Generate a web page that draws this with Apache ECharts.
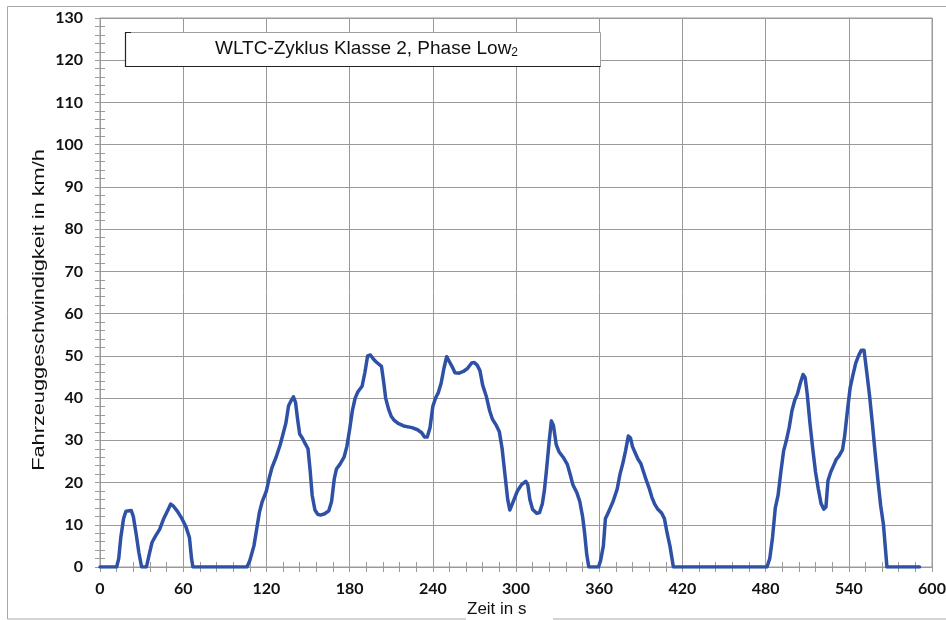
<!DOCTYPE html>
<html><head><meta charset="utf-8">
<script src="https://cdn.jsdelivr.net/npm/echarts@6/dist/echarts.min.js"></script>
<style>html,body{margin:0;padding:0;background:#fff}#c{width:946px;height:620px}</style>
</head><body><div id="c"></div>
<script>
const chartTitle = 'WLTC-Zyklus Klasse 2, Phase Low';
const titleSub = '2';
const xAxisTitle = 'Zeit in s';
const yAxisTitle = 'Fahrzeuggeschwindigkeit in km/h';
const xTickLabels = [0, 60, 120, 180, 240, 300, 360, 420, 480, 540, 600];
const yTickLabels = [0, 10, 20, 30, 40, 50, 60, 70, 80, 90, 100, 110, 120, 130];

const timeS = [0,12,13.5,15,17,18.7,20,22.5,24,26,28,30,
33.5,35.5,37.5,40,43,46,49,51,53,56,59,62,64.5,66,67,
106,108,111,113,115,117,120,122,124,127,130,132,134,136,138,139.5,141,142.5,144,146,
148,150,151.5,153,155,157,159,162,165,167,169,170.5,173,176,178,180,182,184,186,189,
191,193,195,197,199,203,204.5,206,208,210,212,215,219,225,229,232,234,236,238,240,
242,244,246,248,250,252,254,256,259,262,265,268,270,272,274,276,278.5,281,283,286,
288,290,292,294,295.5,298,301,304,307,308.5,310,312,315,317,319,320.5,322,324,325.5,327,
329,331,334,337,339,341,344,346,348,349.5,351,352.5,
359.5,361,363,364.5,366,368,370,373,375,377,379,381,382.5,384,386,388,390,392,394,396,
398,400,402,405,407,409,411,412.5,413.5,
481,483,485,487,489,491,493,495,497,499,501,503,505,507,508.5,510,512,514,516,518,
520,522,523.5,525,527,529,531,533,535.5,537,539,541,543,545,547,549,551,553,555,557,
559,561,563,565,566.5,567.5,591];

const speedKmh = [0,0,2,7,11.5,13.2,13.6,13.4,12,8,3.5,0,
0,3,5.8,7.3,8.9,11.5,13.5,14.9,14.4,13.1,11.5,9.5,7,2,0,
0,1.5,5,9,13,15.5,18,21,23.5,26,29,31.5,34,38.2,39.5,40.3,39,35,31.5,30.5,
29.2,28,23,17,13.5,12.5,12.3,12.6,13.3,15.5,21,23.2,24.3,26,28.5,32.5,37,40,41.5,42.8,
46,50,50.2,49.3,48.6,47.5,44,40,37.5,35.7,34.8,34,33.4,33,32.5,31.8,30.8,30.8,33,38,
40,41.3,43.5,47,49.8,48.6,47.4,46,45.9,46.3,47,48.3,48.4,47.8,46.5,43,40.5,37,35,33.4,
32,28,22,16,13.5,15.5,18,19.5,20.3,19.5,16,13.6,12.7,12.9,15,18.2,23,30,34.6,33.5,
29,27.3,26,24.3,22,19.5,17.5,15.5,12,8,3,0,
0,1.5,5,11.5,12.5,14,15.5,18.5,22,24.5,27.5,31,30.6,28.5,27,25.5,24.5,22.5,20.5,18.7,
16.5,14.9,13.8,12.8,11.5,8,5,2,0,
0,2,7,14,17,22.5,27.5,30,33,37,39.5,41,43.5,45.6,44.9,41,34,28,22.5,18.5,
15,13.7,14.2,20.5,22.5,24,25.5,26.3,27.8,31,37,42.5,45.5,48.3,50,51.3,51.3,46,40.5,34,
27,20.5,14.5,10,4,0,0];

const seriesData = timeS.map((t, i) => [t, speedKmh[i]]);

const gridGray = '#9a9a9a';
const labelStyle = {fontFamily: 'Lato', fontWeight: 'bold', fontSize: 16, color: '#111'};

function xAx(inside) {
  return {
    type: 'value', position: 'bottom',
    min: xTickLabels[0], max: xTickLabels[xTickLabels.length - 1],
    interval: xTickLabels[1] - xTickLabels[0],
    axisLine: {show: !inside, lineStyle: {color: gridGray, width: 1}},
    axisTick: {show: true, inside: inside, length: 5, lineStyle: {color: gridGray}},
    minorTick: {show: true, splitNumber: 5, length: 5, lineStyle: {color: gridGray}},
    splitLine: {show: !inside, lineStyle: {color: gridGray, width: 1}},
    minorSplitLine: {show: false},
    axisLabel: inside ? {show: false} : Object.assign({margin: 14}, labelStyle)
  };
}
function yAx(inside) {
  return {
    type: 'value', position: 'left',
    min: yTickLabels[0], max: yTickLabels[yTickLabels.length - 1],
    interval: yTickLabels[1] - yTickLabels[0],
    axisLine: {show: !inside, lineStyle: {color: gridGray, width: 1}},
    axisTick: {show: true, inside: inside, length: 5, lineStyle: {color: gridGray}},
    minorTick: {show: true, splitNumber: 5, length: 5, lineStyle: {color: gridGray}},
    splitLine: {show: !inside, lineStyle: {color: gridGray, width: 1}},
    minorSplitLine: {show: false},
    axisLabel: inside ? {show: false} : Object.assign({margin: 17}, labelStyle)
  };
}

const chart = echarts.init(document.getElementById('c'), null, {renderer: 'canvas'});
chart.setOption({
  animation: false,
  backgroundColor: '#fff',
  grid: {left: 100, right: 14, top: 18, bottom: 53, show: true, borderColor: gridGray, borderWidth: 1, containLabel: false, outerBoundsMode: 'none'},
  xAxis: [xAx(false), xAx(true)],
  yAxis: [yAx(false), yAx(true)],
  series: [{
    type: 'line', xAxisIndex: 0, yAxisIndex: 0,
    data: seriesData, showSymbol: false, symbol: 'none',
    lineStyle: {color: '#2E51A5', width: 3.5, join: 'round', cap: 'round'},
    z: 5
  }],
  graphic: [
    {type: 'rect', z: 0, silent: true, shape: {x: 7.5, y: 6.5, width: 960, height: 612.5},
     style: {fill: 'none', stroke: '#a8a8a8', lineWidth: 1}},
    {type: 'rect', z: 10, shape: {x: 466, y: 597, width: 87, height: 24}, style: {fill: '#fff'}},
    {type: 'text', z: 11, x: 467, y: 609, style: {text: xAxisTitle, font: '17px "Liberation Sans", Arial, sans-serif', fill: '#111', align: 'left', verticalAlign: 'middle'}},
    {type: 'text', z: 11, x: 40, y: 310, rotation: Math.PI / 2, scaleX: 1.36,
     style: {text: yAxisTitle, font: '16px "Liberation Sans", Arial, sans-serif', fill: '#111', align: 'center', verticalAlign: 'middle'}},
    {type: 'rect', z: 10, shape: {x: 125.5, y: 32.5, width: 475, height: 34}, style: {fill: '#fff', stroke: '#a0a0a0', lineWidth: 1}},
    {type: 'polyline', z: 11, shape: {points: [[131, 32.5], [125.5, 32.5], [125.5, 66.5], [600.5, 66.5]]}, style: {stroke: '#222', lineWidth: 1.2, fill: 'none'}},
    {type: 'text', z: 12, x: 215, y: 49, style: {
      text: '{a|' + chartTitle + '}{b|' + titleSub + '}',
      align: 'left', verticalAlign: 'middle', fill: '#111',
      rich: {
        a: {fontFamily: '"Liberation Sans", Arial, sans-serif', fontSize: 19, fill: '#111', color: '#111'},
        b: {fontFamily: '"Liberation Sans", Arial, sans-serif', fontSize: 12, fill: '#111', color: '#111', verticalAlign: 'bottom'}
      }
    }}
  ]
});
</script>
</body></html>
